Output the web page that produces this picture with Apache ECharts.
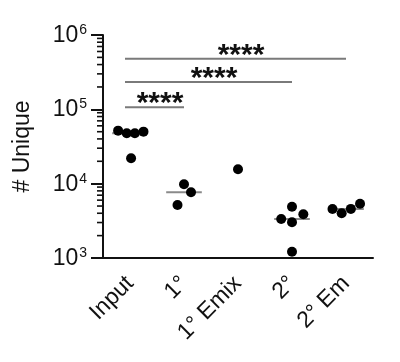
<!DOCTYPE html>
<html><head><meta charset="utf-8">
<script src="https://cdn.jsdelivr.net/npm/echarts@6/dist/echarts.min.js"></script>
<style>html,body{margin:0;padding:0;background:#fff}#c{width:400px;height:362px}</style>
</head><body><div id="c"></div>
<script>
const categories = ['Input', '1°', '1° Emix', '2°', '2° Em'];
const inputValues = [51700, 47700, 47700, 50100, 22000];
const inputJitter = [-0.22, -0.06, 0.09, 0.25, 0.02];
const primaryValues = [5170, 9820, 7660];
const primaryJitter = [-0.12, 0.0, 0.13];
const primaryEmixValues = [15600];
const primaryEmixJitter = [0.0];
const secondaryValues = [3350, 4900, 3020, 3870, 1215];
const secondaryJitter = [-0.20, 0.0, 0.0, 0.21, 0.0];
const secondaryEmValues = [4570, 4000, 4580, 5380];
const secondaryEmJitter = [-0.25, -0.08, 0.09, 0.26];
const yTicks = [1e3, 1e4, 1e5, 1e6];
const minorTicks = [2e3,3e3,4e3,5e3,6e3,7e3,8e3,9e3,2e4,3e4,4e4,5e4,6e4,7e4,8e4,9e4,2e5,3e5,4e5,5e5,6e5,7e5,8e5,9e5];
const comparisonFrom = ['Input', 'Input', 'Input'];
const comparisonTo = ['1°', '2°', '2° Em'];
const comparisonLevel = [107000, 233000, 481000];
const comparisonLabel = ['****', '****', '****'];

const groupValues = [inputValues, primaryValues, primaryEmixValues, secondaryValues, secondaryEmValues];
const groupJitter = [inputJitter, primaryJitter, primaryEmixJitter, secondaryJitter, secondaryEmJitter];

function median(a){const s=[...a].sort((x,y)=>x-y);const m=s.length>>1;return s.length%2?s[m]:(s[m-1]+s[m])/2;}

const points = [];
groupValues.forEach((vals,i)=>vals.forEach((v,j)=>points.push([i+groupJitter[i][j], v])));
const medians = [];
groupValues.forEach((vals,i)=>{ if(vals.length>1) medians.push([i, median(vals)]); });
const comps = comparisonFrom.map((f,k)=>[categories.indexOf(f), categories.indexOf(comparisonTo[k]), comparisonLevel[k], comparisonLabel[k]]);

const FONT = "'Liberation Sans', Arial, sans-serif";
const chart = echarts.init(document.getElementById('c'), null, {renderer:'canvas'});
chart.setOption({
  animation:false,
  backgroundColor:'#fff',
  grid:{left:103, right:27, top:35, bottom:104},
  xAxis:[{
    type:'category', data:categories, boundaryGap:true,
    axisLine:{onZero:false, lineStyle:{color:'#111', width:2}},
    axisTick:{alignWithLabel:true, length:12, lineStyle:{color:'#111', width:2}},
    axisLabel:{rotate:45, margin:22, fontSize:23, color:'#111', fontFamily:FONT, interval:0},
    splitLine:{show:false}
  },{
    type:'value', min:-0.5, max:4.5, show:false
  }],
  yAxis:{
    type:'log', logBase:10, min:1e3, max:1e6,
    name:'# Unique', nameLocation:'middle', nameGap:69,
    nameTextStyle:{fontSize:23, color:'#111', fontFamily:FONT},
    axisLine:{show:true, onZero:false, lineStyle:{color:'#111', width:2}},
    axisTick:{show:true, length:12, lineStyle:{color:'#111', width:2}},
    splitLine:{show:false},
    axisLabel:{
      margin:16, color:'#111', fontFamily:FONT,
      formatter:v=>'{b|10}{s|'+Math.round(Math.log10(v))+'}',
      rich:{b:{fontSize:23, fontFamily:FONT, color:'#111', lineHeight:24, verticalAlign:'bottom'},
            s:{fontSize:14, fontFamily:FONT, color:'#111', lineHeight:24, verticalAlign:'top', padding:[0,0,0,1]}}
    }
  },
  series:[
    {
      type:'custom', xAxisIndex:1, data:minorTicks.map(v=>[0,v]), silent:true, z:3,
      renderItem:(params, api)=>{
        const y = api.coord([0, api.value(1)])[1];
        const x0 = params.coordSys.x;
        return {type:'line', shape:{x1:x0-6, y1:y, x2:x0, y2:y}, style:{stroke:'#111', lineWidth:1.6}};
      }
    },
    {
      type:'custom', xAxisIndex:1, data:medians, silent:true, z:4,
      renderItem:(params, api)=>{
        const c = api.coord([api.value(0), api.value(1)]);
        const w = api.size([1, 0])[0]*0.33;
        return {type:'line', shape:{x1:c[0]-w, y1:c[1], x2:c[0]+w, y2:c[1]}, style:{stroke:'#8a8a8a', lineWidth:2}};
      }
    },
    {
      type:'scatter', xAxisIndex:1, data:points, symbol:'circle', symbolSize:10,
      itemStyle:{color:'#000', opacity:1}, z:5
    },
    {
      type:'custom', xAxisIndex:1, data:comps, silent:true, z:4,
      renderItem:(params, api)=>{
        const a = api.coord([api.value(0), api.value(2)]);
        const b = api.coord([api.value(1), api.value(2)]);
        const lbl = comps[params.dataIndex][3];
        return {type:'group', children:[
          {type:'line', shape:{x1:a[0]-5, y1:a[1], x2:b[0], y2:b[1]}, style:{stroke:'#7a7a7a', lineWidth:2}},
          {type:'text', style:{text:lbl, x:(a[0]+b[0])/2+3, y:a[1]-3, align:'center', verticalAlign:'middle', fontSize:30, fontWeight:'bold', fontFamily:FONT, fill:'#111'}}
        ]};
      }
    }
  ]
});
</script></body></html>
